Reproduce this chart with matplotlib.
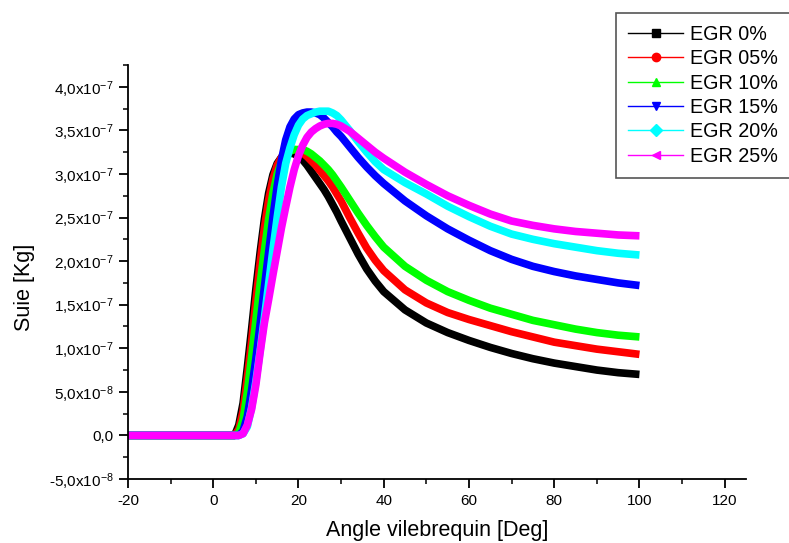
import matplotlib
matplotlib.use("Agg")
import matplotlib.pyplot as plt
from matplotlib.lines import Line2D
from matplotlib.ticker import MultipleLocator, FuncFormatter
import numpy as np

plt.rcParams['font.family'] = ['Liberation Sans', 'DejaVu Sans']
plt.rcParams['mathtext.default'] = 'regular'
plt.rcParams['axes.unicode_minus'] = False

# crank angle [deg]
angle = [-20, 0, 4, 5, 6, 7, 8, 9, 10, 11, 12, 13, 14, 15, 16, 17, 18, 19, 20,
         21, 22, 23, 24, 25, 26, 27, 28, 29, 30, 32, 34, 36, 38, 40,
         45, 50, 55, 60, 65, 70, 75, 80, 85, 90, 95, 100]

# soot mass, in units of 1e-7 kg
egr_00 = [0, 0, 0, 0.00, 0.12, 0.37, 0.78, 1.22, 1.68, 2.10, 2.48, 2.78, 2.99, 3.12, 3.19, 3.23, 3.24, 3.23, 3.20,
          3.16, 3.10, 3.03, 2.96, 2.89, 2.82, 2.74, 2.65, 2.56, 2.46, 2.27, 2.08, 1.91, 1.77, 1.65,
          1.44, 1.29, 1.18, 1.09, 1.01, 0.94, 0.88, 0.83, 0.79, 0.75, 0.72, 0.70]
egr_05 = [0, 0, 0, 0.00, 0.07, 0.28, 0.66, 1.08, 1.54, 1.98, 2.38, 2.70, 2.94, 3.10, 3.19, 3.25, 3.27, 3.28, 3.27,
          3.24, 3.20, 3.15, 3.10, 3.04, 2.98, 2.92, 2.85, 2.77, 2.69, 2.50, 2.32, 2.15, 2.01, 1.89,
          1.67, 1.52, 1.41, 1.33, 1.26, 1.19, 1.13, 1.07, 1.03, 0.99, 0.96, 0.93]
egr_10 = [0, 0, 0, 0.00, 0.03, 0.18, 0.50, 0.90, 1.32, 1.74, 2.12, 2.48, 2.78, 3.00, 3.14, 3.22, 3.26, 3.28, 3.28,
          3.28, 3.26, 3.23, 3.19, 3.15, 3.10, 3.05, 2.99, 2.92, 2.85, 2.70, 2.55, 2.41, 2.28, 2.16,
          1.94, 1.78, 1.65, 1.55, 1.46, 1.39, 1.32, 1.27, 1.22, 1.18, 1.15, 1.13]
egr_15 = [0, 0, 0, 0.00, 0.00, 0.05, 0.22, 0.52, 0.88, 1.28, 1.70, 2.10, 2.50, 2.86, 3.16, 3.39, 3.54, 3.63, 3.68,
          3.70, 3.71, 3.71, 3.70, 3.68, 3.64, 3.59, 3.54, 3.48, 3.43, 3.31, 3.19, 3.08, 2.98, 2.89,
          2.69, 2.52, 2.37, 2.24, 2.12, 2.02, 1.94, 1.88, 1.83, 1.79, 1.75, 1.72]
egr_20 = [0, 0, 0, 0.00, 0.00, 0.02, 0.10, 0.32, 0.62, 0.97, 1.35, 1.74, 2.13, 2.50, 2.85, 3.12, 3.30, 3.45, 3.56,
          3.63, 3.67, 3.69, 3.71, 3.72, 3.72, 3.72, 3.70, 3.67, 3.62, 3.50, 3.37, 3.25, 3.14, 3.05,
          2.90, 2.77, 2.63, 2.51, 2.40, 2.31, 2.25, 2.20, 2.16, 2.12, 2.09, 2.07]
egr_25 = [0, 0, 0, 0.00, 0.00, 0.02, 0.12, 0.30, 0.58, 0.95, 1.29, 1.56, 1.84, 2.11, 2.38, 2.62, 2.85, 3.05, 3.21,
          3.33, 3.42, 3.48, 3.52, 3.55, 3.57, 3.58, 3.58, 3.57, 3.55, 3.49, 3.41, 3.33, 3.25, 3.18,
          3.02, 2.88, 2.75, 2.64, 2.54, 2.46, 2.41, 2.37, 2.34, 2.32, 2.30, 2.29]

labels = ['EGR 0%', 'EGR 05%', 'EGR 10%', 'EGR 15%', 'EGR 20%', 'EGR 25%']
colors = ['#000000', '#ff0000', '#00ff00', '#0000ff', '#00ffff', '#ff00ff']
markers = ['s', 'o', '^', 'v', 'D', '<']
series = [egr_00, egr_05, egr_10, egr_15, egr_20, egr_25]

fig = plt.figure(figsize=(7.89, 5.43), dpi=100)
ax = fig.add_axes([128 / 789, 1 - 479 / 543, 618 / 789, 414 / 543])

for vals, c in zip(series, colors):
    ax.plot(angle, np.array(vals) * 1e-7, color=c, linewidth=5.5, solid_capstyle='butt')

ax.set_xlim(-20, 125)
ax.set_ylim(-5e-8, 4.25e-7)

ax.xaxis.set_major_locator(MultipleLocator(20))
ax.xaxis.set_minor_locator(MultipleLocator(10))
ax.yaxis.set_major_locator(MultipleLocator(5e-8))
ax.yaxis.set_minor_locator(MultipleLocator(2.5e-8))


def sci_comma(v, pos):
    if abs(v) < 1e-12:
        return '0,0'
    e = int(np.floor(np.log10(abs(v)) + 1e-9))
    m = v / 10 ** e
    return ('%.1f' % m).replace('.', ',') + 'x10$^{%d}$' % e


ax.yaxis.set_major_formatter(FuncFormatter(sci_comma))

for s in ['top', 'right']:
    ax.spines[s].set_visible(False)
for s in ['left', 'bottom']:
    ax.spines[s].set_linewidth(1.3)

ax.tick_params(which='major', direction='out', length=6.5, width=1.3, labelsize=11, pad=4)
ax.tick_params(which='minor', direction='out', length=3.5, width=1.1)

ax.set_xlabel('Angle vilebrequin [Deg]', fontsize=15.5, labelpad=9)
ax.set_ylabel('Suie [Kg]', fontsize=15.5)
ax.yaxis.set_label_coords(-0.15, 0.4626)

handles = [Line2D([], [], color=c, marker=m, linewidth=1, markersize=6)
           for c, m in zip(colors, markers)]
leg = fig.legend(handles, labels, loc='upper left', bbox_to_anchor=(616 / 789, 1 - 12.7 / 543),
                 borderaxespad=0, fontsize=14.2, handlelength=2.8, handletextpad=0.35,
                 labelspacing=0.27, borderpad=0.62, fancybox=False, framealpha=1,
                 edgecolor='#555555')
leg.get_frame().set_linewidth(1.2)

fig.savefig('out.png', dpi=100)
